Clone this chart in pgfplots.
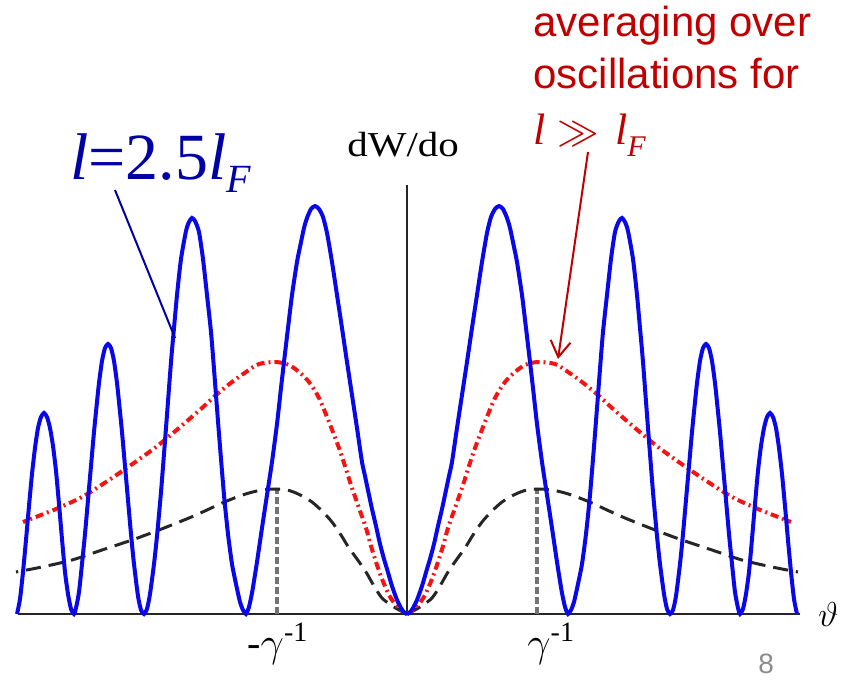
\documentclass[border=0pt]{standalone}
\usepackage{fontspec}
\setmainfont{Liberation Serif}
\newfontfamily\arialfont{Liberation Sans}
\usepackage{graphicx}
\usepackage{pgfplots}
\pgfplotsset{compat=1.18}
\usepackage{pgfplotstable}
\usetikzlibrary{arrows.meta}
\definecolor{lblue}{RGB}{8,8,235}
\definecolor{dblue}{RGB}{0,0,165}
\definecolor{dred}{RGB}{192,0,0}
\definecolor{cred}{RGB}{245,20,20}

% right half (|theta| in px units), mirrored for the left half
\pgfplotstableread{
x y
0 0
3 1.5
6 6
10 14
15 28
20 45
23 55
27 70
31 88
35 105
38 119
42 138
45 152
50 186
55 219
60 252
65 286
70 319
75 352
80 381
84 397
88 405
92 408
96 405
100 396
103 386
107 367
110 352
115 319
119 286
123 252
126 226
130 190
135 152
140 119
145 86
150 52
153 33
155 21
158 7
161 0
164 4
167 12
171 30
175 50
179 80
183 119
188 180
193 245
196 282
200 319
204 355
208 382
212 393
215 396
218 392
221 383
226 355
230 319
233 286
236 252
241 186
246 122
250 78
253 50
257 20
260 5
263 0
266 4
269 18
273 50
276 80
279 114
282 148
285 182
288 212
290 231
293 253
296 266
299 270
302 266
305 253
308 231
310 212
313 182
316 148
319 114
322 80
325 50
328 22
331 6
333 0
336 5
339 20
342 42
345 75
348 110
351 143
354 168
357 186
360 197
363 201
366 197
369 186
372 166
375 140
378 108
381 74
384 42
387 15
390 0
}\bluedata

\pgfplotstableread{
x y
0 0
6 4
12 10
18 19
25 35
31 52
36 68
41 86
48 106
56 129
62 148
68 166
78 192
88 216
98 232
108 242
118 249
131 252
148 250
161 242
175 232
191 219
205 206
228 186
251 167
276 149
301 132
325 117
351 105
384 92
}\reddata

\pgfplotstableread{
x y
0 0
8 4
16 9
25 16
33 28
41 42
50 55
58 66
66 79
75 92
85 103
95 112
103 117
111 121
120 124
131 125
145 124
158 121
170 117
185 111
200 104
218 96
248 84
275 74
305 64
335 54
365 47
391 42
}\blackdata

\begin{document}
\begin{tikzpicture}
\begin{axis}[
  at={(0,0)}, anchor=south west,
  width=424pt, height=340.5pt, scale only axis,
  xmin=-407, xmax=441, ymin=-67, ymax=614,
  hide axis, clip=false]

% axes
\addplot[black!85, line width=1pt] coordinates {(-389,0) (393,0)};
\addplot[black!85, line width=0.8pt] coordinates {(0,0) (0,429)};

% gamma^-1 markers
\addplot[black!55, line width=1.8pt, dash pattern=on 3.5pt off 1.5pt] coordinates {(130,0) (130,124)};
\addplot[black!55, line width=1.8pt, dash pattern=on 3.5pt off 1.5pt] coordinates {(-130,0) (-130,124)};

% black dashed
\addplot[black!85, line width=1.5pt, dash pattern=on 7.5pt off 4pt, smooth] table[x=x, y=y] {\blackdata};
\addplot[black!85, line width=1.5pt, dash pattern=on 7.5pt off 4pt, smooth] table[x expr=-\thisrow{x}, y=y] {\blackdata};

% red dash-dot
\addplot[cred, line width=2pt, dash pattern=on 4pt off 2pt on 1pt off 2pt, smooth] table[x=x, y=y] {\reddata};
\addplot[cred, line width=2pt, dash pattern=on 4pt off 2pt on 1pt off 2pt, smooth] table[x expr=-\thisrow{x}, y=y] {\reddata};

% blue oscillating
\addplot[lblue, line width=2pt, smooth, tension=0.4] table[x=x, y=y] {\bluedata};
\addplot[lblue, line width=2pt, smooth, tension=0.4] table[x expr=-\thisrow{x}, y=y] {\bluedata};

% labels
\node[anchor=base west, inner sep=0] at (axis cs:-60,457)
  {\scalebox{1.17}[1]{\fontsize{17.5}{17.5}\selectfont dW/do}};
\node[anchor=base west, inner sep=0] at (axis cs:120,-43)
  {\fontsize{20}{20}\selectfont$\gamma$\textsuperscript{-1}};
\node[anchor=base west, inner sep=0] at (axis cs:-160,-43)
  {\fontsize{20}{20}\selectfont -$\gamma$\textsuperscript{-1}};
\node[anchor=base west, inner sep=0] at (axis cs:411,-13)
  {\fontsize{17}{17}\selectfont$\vartheta$};
\node[anchor=base west, inner sep=0, text=black!45] at (axis cs:351,-60)
  {\arialfont\fontsize{14}{14}\selectfont 8};

% blue annotation
\node[anchor=base west, inner sep=0, text=dblue] at (axis cs:-337,434)
  {\fontsize{33}{33}\selectfont\itshape l\upshape=2.5\itshape l\raisebox{-6.5pt}{\fontsize{20}{20}\selectfont F}};
\draw[dblue, line width=1pt] (axis cs:-292,424) -- (axis cs:-232,276);

% red annotation
\node[anchor=base west, inner sep=0, text=dred] at (axis cs:126,577)
  {\arialfont\fontsize{21}{21}\selectfont averaging over};
\node[anchor=base west, inner sep=0, text=dred] at (axis cs:126,525)
  {\arialfont\fontsize{21}{21}\selectfont oscillations for};
\node[anchor=base west, inner sep=0, text=dred] at (axis cs:126,469)
  {\fontsize{22}{22}\selectfont\itshape l\hspace{6pt}\upshape$\gg$\hspace{8pt}\itshape l\raisebox{-6pt}{\fontsize{15}{15}\selectfont F}};
\draw[dred, line width=1pt, -{Straight Barb[length=8pt, width=10pt, line width=1pt]}] (axis cs:181,462) -- (axis cs:151,255);
\end{axis}
\pgfresetboundingbox
\path[use as bounding box] (current axis.south west) rectangle (current axis.north east);
\end{tikzpicture}
\end{document}
